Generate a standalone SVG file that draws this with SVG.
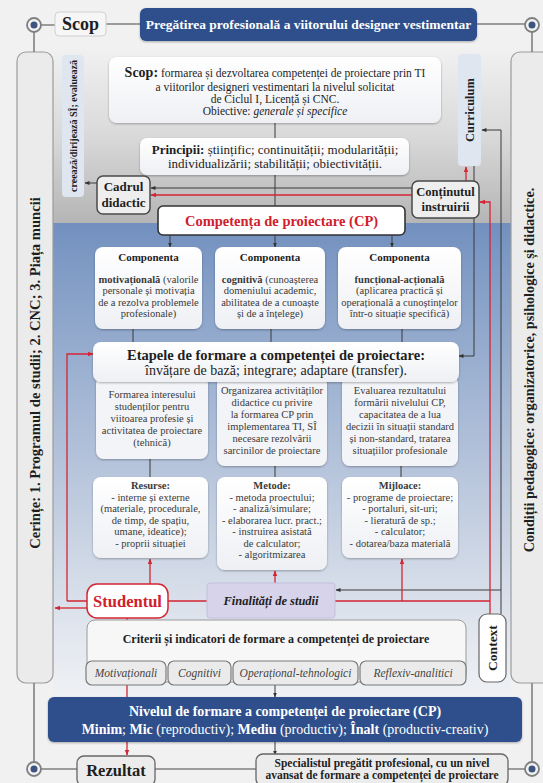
<svg xmlns="http://www.w3.org/2000/svg" width="543" height="783" viewBox="0 0 543 783">
<defs>
<style>
text{font-family:"Liberation Serif","Times New Roman",serif;fill:#1e1e1e}
.b{font-weight:bold}
.it{font-style:italic}
.c{text-anchor:middle}
.body{font-size:10.5px;fill:#3a3a3a}
.frame{stroke:#808080;stroke-width:1.6;fill:none}
.dk{stroke:#3a3a3a;stroke-width:1;fill:none}
.rd{stroke:#d42532;stroke-width:1.3;fill:none}
.wbox{fill:url(#gw);filter:url(#sh)}
.gbox{fill:#eeeeee;stroke:#4a4a4a;stroke-width:1.5}
.side{fill:#ebebeb;stroke:#9c9c9c;stroke-width:1.2}
.navy{fill:#2e4f8c;filter:url(#sh)}
.pale{fill:#dfe6f0}
.pill{fill:#ebebeb;stroke:#7a7a7a;stroke-width:1.2}
.ring{fill:#f2f2f2;stroke:#7f7f7f;stroke-width:1.8}
.dot{fill:#3e5480}
</style>
<linearGradient id="gw" x1="0" y1="0" x2="0" y2="1"><stop offset="0" stop-color="#ffffff"/><stop offset="1" stop-color="#eef0f4"/></linearGradient>
<linearGradient id="ggray" x1="0" y1="0" x2="0" y2="1"><stop offset="0" stop-color="#f2f2f2"/><stop offset="0.5" stop-color="#dadada"/><stop offset="1" stop-color="#b5b5b5"/></linearGradient>
<linearGradient id="gblue" x1="0" y1="0" x2="0" y2="1"><stop offset="0" stop-color="#7290bf"/><stop offset="0.12" stop-color="#859fc7"/><stop offset="0.35" stop-color="#a6b8d5"/><stop offset="0.6" stop-color="#c9d3e3"/><stop offset="0.78" stop-color="#e2e7ef"/><stop offset="0.9" stop-color="#eff1f4"/><stop offset="1" stop-color="#f2f2f2"/></linearGradient>
<filter id="sh" x="-10%" y="-15%" width="120%" height="140%"><feDropShadow dx="0" dy="1" stdDeviation="1.2" flood-color="#000" flood-opacity="0.3"/></filter>
<marker id="ad" viewBox="0 0 10 10" refX="9" refY="5" markerWidth="5" markerHeight="5" orient="auto" markerUnits="userSpaceOnUse"><path d="M0,1 L10,5 L0,9 z" fill="#333"/></marker>
<marker id="ar" viewBox="0 0 10 10" refX="9" refY="5" markerWidth="5.5" markerHeight="5.5" orient="auto" markerUnits="userSpaceOnUse"><path d="M0,1 L10,5 L0,9 z" fill="#d42532"/></marker>
</defs>

<rect width="543" height="783" fill="#f1f1f1"/>
<rect x="53" y="44" width="458" height="179" fill="url(#ggray)"/>
<rect x="53" y="223" width="458" height="527" fill="url(#gblue)"/>

<g id="panel-left"><rect class="side" x="17" y="52" width="36" height="631" rx="9"/>
<text class="b c" font-size="14.6" transform="translate(35,373) rotate(-90)" dy="0.35em">Cerințe: 1. Programul de studii; 2. CNC; 3. Piața muncii</text></g>
<g id="panel-right"><rect class="side" x="511" y="52" width="40" height="631" rx="9"/>
<text class="b c" font-size="14.2" transform="translate(529,370) rotate(-90)" dy="0.35em">Condiții pedagogice: organizatorice, psihologice și didactice.</text></g>

<g id="connectors">
<path class="frame" d="M34,25 H55 M106,24 H140 M477,24 H532 M34,25 V52 M532,25 V52 M34,683 V769 M532,683 V769 M34,769 H77 M155,769 H256 M508,769 H532"/>
<path class="dk" d="M275,123 V138 M275,175 V206"/>
<path class="dk" marker-end="url(#ad)" d="M412,188 H151"/>
<path class="dk" marker-end="url(#ad)" d="M97,183 H85"/>
<path class="dk" marker-end="url(#ad)" d="M170,235 V247"/>
<path class="dk" marker-end="url(#ad)" d="M275,235 V247"/>
<path class="dk" marker-end="url(#ad)" d="M392,235 V247"/>
<path class="dk" d="M133,328 V342 M271,328 V342 M402,328 V342 M150,459 V477 M275,466 V477 M401,466 V477"/>
<path class="dk" marker-end="url(#ad)" d="M474,166 V356 H459"/>
<path class="dk" marker-end="url(#ad)" d="M501,614 V130 H482"/>
<path class="dk" marker-end="url(#ad)" d="M501,590 H336"/>
<path class="dk" marker-end="url(#ad)" d="M275,685 V697"/>
<path class="dk" marker-end="url(#ad)" d="M275,742 V755"/>
<path class="rd" marker-end="url(#ar)" d="M412,195 H151"/>
<path class="rd" marker-end="url(#ar)" d="M466,181 V167"/>
<path class="rd" marker-end="url(#ar)" d="M490,614 V202 H480"/>
<path class="rd" d="M335,601 H490 M168,601 H207 M67,601 H87 M127,618 V621 M127,685 V697"/>
<path class="rd" marker-end="url(#ar)" d="M67,601 V354 H93"/>
<path class="rd" marker-end="url(#ar)" d="M87,608 H55"/>
<path class="rd" marker-end="url(#ar)" d="M150,584 V559"/>
<path class="rd" marker-end="url(#ar)" d="M275,583 V571"/>
<path class="rd" marker-end="url(#ar)" d="M402,601 V559"/>
<path class="rd" marker-end="url(#ar)" d="M127,742 V755"/>
<circle class="ring" cx="34" cy="25" r="7"/><circle class="dot" cx="34" cy="25" r="3.5"/>
<circle class="ring" cx="532" cy="25" r="7"/><circle class="dot" cx="532" cy="25" r="3.5"/>
<circle class="ring" cx="34" cy="769" r="7"/><circle class="dot" cx="34" cy="769" r="3.5"/>
<circle class="ring" cx="532" cy="769" r="7"/><circle class="dot" cx="532" cy="769" r="3.5"/>
</g>

<g id="scop-label"><rect x="55" y="12" width="51" height="24" rx="4" fill="#f6f6f6" stroke="#d0d0d0"/>
<text class="b c" x="80.5" y="30" font-size="18">Scop</text></g>
<g id="title"><rect class="navy" x="140" y="8" width="337" height="33" rx="6"/>
<text class="b c" x="308.5" y="29" font-size="13.5" style="fill:#fff">Pregătirea profesională a viitorului designer vestimentar</text></g>

<g id="creeaza"><rect class="pale" x="62" y="55" width="22" height="142" rx="4"/>
<text class="b c" font-size="10" transform="translate(73,126) rotate(-90)" dy="0.35em">creează/dirijează SÎ; evaluează</text></g>
<g id="curriculum"><rect class="pale" x="458" y="54" width="23" height="112" rx="4"/>
<text class="b c" font-size="12.5" transform="translate(469.5,110) rotate(-90)" dy="0.35em">Curriculum</text></g>

<g id="scop"><rect class="wbox" x="109" y="57" width="332" height="66" rx="8"/>
<text class="c" x="275" y="77" font-size="11.5"><tspan class="b" font-size="14">Scop:</tspan> formarea și dezvoltarea competenței de proiectare prin TI</text>
<text class="c" x="275" y="90.5" font-size="11.5">a viitorilor designeri vestimentari la nivelul solicitat</text>
<text class="c" x="275" y="102.5" font-size="11.5">de Ciclul I, Licență și CNC.</text>
<text class="c" x="275" y="114.5" font-size="11.5">Obiective: <tspan class="it">generale și specifice</tspan></text></g>

<g id="principii"><rect class="wbox" x="140" y="138" width="269" height="37" rx="7"/>
<text class="c" x="275" y="154" font-size="13"><tspan class="b">Principii:</tspan> științific; continuității; modularității;</text>
<text class="c" x="275" y="168" font-size="13">individualizării; stabilității; obiectivității.</text></g>

<g id="cadrul"><rect class="gbox" x="97" y="176" width="53" height="38" rx="6"/>
<text class="b c" x="123.5" y="191" font-size="13">Cadrul</text>
<text class="b c" x="123.5" y="207" font-size="13">didactic</text></g>
<g id="continutul"><rect class="gbox" x="412" y="181" width="67" height="37" rx="6"/>
<text class="b c" x="445.5" y="196" font-size="12.5">Conținutul</text>
<text class="b c" x="445.5" y="211" font-size="12.5">instruirii</text></g>

<g id="competenta"><rect x="158" y="206" width="247" height="29" rx="5" fill="#fff" stroke="#333" stroke-width="1.6"/>
<text class="b c" x="281.5" y="226" font-size="14.5" style="fill:#d0202c">Competența de proiectare (CP)</text></g>

<g id="comp-motivationala"><rect class="wbox" x="95" y="247" width="107" height="82" rx="8"/>
<text class="b c" x="148.5" y="261" font-size="11">Componenta</text>
<text class="c body" x="148.5" y="282.5"><tspan class="b">motivațională</tspan> (valorile</text>
<text class="c body" x="148.5" y="294">personale și motivația</text>
<text class="c body" x="148.5" y="305.5">de a rezolva problemele</text>
<text class="c body" x="148.5" y="317">profesionale)</text></g>
<g id="comp-cognitiva"><rect class="wbox" x="215" y="247" width="110" height="82" rx="8"/>
<text class="b c" x="270" y="261" font-size="11">Componenta</text>
<text class="c body" x="270" y="282.5"><tspan class="b">cognitivă</tspan> (cunoașterea</text>
<text class="c body" x="270" y="294">domeniului academic,</text>
<text class="c body" x="270" y="305.5">abilitatea de a cunoaște</text>
<text class="c body" x="270" y="317">și de a înțelege)</text></g>
<g id="comp-functionala"><rect class="wbox" x="338" y="247" width="123" height="82" rx="8"/>
<text class="b c" x="399.5" y="261" font-size="11">Componenta</text>
<text class="c body b" x="399.5" y="282.5">funcțional-acțională</text>
<text class="c body" x="399.5" y="294">(aplicarea practică și</text>
<text class="c body" x="399.5" y="305.5">operațională a cunoștințelor</text>
<text class="c body" x="399.5" y="317">într-o situație specifică)</text></g>

<g id="etapele"><rect x="96" y="376" width="112" height="83" rx="8" fill="#f3f4f7" filter="url(#sh)"/>
<rect x="217" y="376" width="110" height="90" rx="8" fill="#f3f4f7" filter="url(#sh)"/>
<rect x="342" y="376" width="116" height="90" rx="8" fill="#f3f4f7" filter="url(#sh)"/>
<rect class="wbox" x="93" y="342" width="366" height="40" rx="8"/>
<text class="b c" x="276" y="360" font-size="14.5">Etapele de formare a competenței de proiectare:</text>
<text class="c" x="276" y="375" font-size="14">învățare de bază; integrare; adaptare (transfer).</text>
<text class="c body" x="152" y="398">Formarea interesului</text>
<text class="c body" x="152" y="410">studenților pentru</text>
<text class="c body" x="152" y="422">viitoarea profesie și</text>
<text class="c body" x="152" y="434">activitatea de proiectare</text>
<text class="c body" x="152" y="446">(tehnică)</text>
<text class="c body" x="272" y="394">Organizarea activităților</text>
<text class="c body" x="272" y="406">didactice cu privire</text>
<text class="c body" x="272" y="418">la formarea CP prin</text>
<text class="c body" x="272" y="430">implementarea TI, SÎ</text>
<text class="c body" x="272" y="442">necesare rezolvării</text>
<text class="c body" x="272" y="454">sarcinilor de proiectare</text>
<text class="c body" x="400" y="394">Evaluarea rezultatului</text>
<text class="c body" x="400" y="406">formării nivelului CP,</text>
<text class="c body" x="400" y="418">capacitatea de a lua</text>
<text class="c body" x="400" y="430">decizii în situații standard</text>
<text class="c body" x="400" y="442">și non-standard, tratarea</text>
<text class="c body" x="400" y="454">situațiilor profesionale</text></g>

<g id="resurse"><rect class="wbox" x="93" y="477" width="115" height="81" rx="8"/>
<text class="c body b" x="150.5" y="489">Resurse:</text>
<text class="c body" x="150.5" y="500.5">- interne și externe</text>
<text class="c body" x="150.5" y="512">(materiale, procedurale,</text>
<text class="c body" x="150.5" y="523.5">de timp, de spațiu,</text>
<text class="c body" x="150.5" y="535">umane, ideatice);</text>
<text class="c body" x="150.5" y="546.5">- proprii situației</text></g>
<g id="metode"><rect class="wbox" x="217" y="477" width="110" height="93" rx="8"/>
<text class="c body b" x="272" y="489">Metode:</text>
<text class="c body" x="272" y="500.5">- metoda proectului;</text>
<text class="c body" x="272" y="512">- analiză/simulare;</text>
<text class="c body" x="272" y="523.5">- elaborarea lucr. pract.;</text>
<text class="c body" x="272" y="535">- instruirea asistată</text>
<text class="c body" x="272" y="546.5">de calculator;</text>
<text class="c body" x="272" y="558">- algoritmizarea</text></g>
<g id="mijloace"><rect class="wbox" x="342" y="477" width="116" height="81" rx="8"/>
<text class="c body b" x="400" y="489">Mijloace:</text>
<text class="c body" x="400" y="500.5">- programe de proiectare;</text>
<text class="c body" x="400" y="512">- portaluri, sit-uri;</text>
<text class="c body" x="400" y="523.5">- lieratură de sp.;</text>
<text class="c body" x="400" y="535">- calculator;</text>
<text class="c body" x="400" y="546.5">- dotarea/baza materială</text></g>

<g id="studentul"><rect x="87" y="584" width="81" height="34" rx="10" fill="#fff" stroke="#d42532" stroke-width="1.5"/>
<text class="b c" x="127.5" y="607" font-size="16.5" style="fill:#d0202c">Studentul</text></g>
<g id="finalitati"><rect x="207" y="583" width="128" height="35" rx="3" fill="#d6d3ea" stroke="#c3bfdd"/>
<text class="b it c" x="271" y="605" font-size="12.5">Finalități de studii</text></g>

<g id="criterii"><rect x="87" y="620" width="379" height="62" rx="8" fill="#f7f7f8" stroke="#9a9a9a"/>
<text class="b c" x="276" y="643" font-size="12">Criterii și indicatori de formare a competenței de proiectare</text>
<rect class="pill" x="86" y="661" width="80" height="24" rx="6"/><text class="it c" x="126" y="677" font-size="11.5" style="fill:#444">Motivaționali</text>
<rect class="pill" x="168" y="661" width="63" height="24" rx="6"/><text class="it c" x="199.5" y="677" font-size="11.5" style="fill:#444">Cognitivi</text>
<rect class="pill" x="233" y="661" width="125" height="24" rx="6"/><text class="it c" x="295.5" y="677" font-size="11.5" style="fill:#444">Operațional-tehnologici</text>
<rect class="pill" x="360" y="661" width="106" height="24" rx="6"/><text class="it c" x="413" y="677" font-size="11.5" style="fill:#444">Reflexiv-analitici</text></g>

<g id="context"><rect x="479" y="614" width="27" height="68" rx="8" fill="#fff" stroke="#666" stroke-width="1.2"/>
<text class="b c" font-size="13.5" transform="translate(492.5,648) rotate(-90)" dy="0.35em">Context</text></g>

<g id="nivelul"><rect class="navy" x="48" y="697" width="474" height="45" rx="6"/>
<text class="b c" x="285" y="716" font-size="14" style="fill:#fff">Nivelul de formare a competenței de proiectare (CP)</text>
<text class="c" x="285" y="734" font-size="14" style="fill:#fff"><tspan class="b">Minim</tspan>; <tspan class="b">Mic</tspan> (reproductiv); <tspan class="b">Mediu</tspan> (productiv); <tspan class="b">Înalt</tspan> (productiv-creativ)</text></g>

<g id="rezultat"><rect x="77" y="756" width="78" height="30" rx="7" fill="#ececec" stroke="#666" stroke-width="1.3"/>
<text class="b c" x="116" y="776" font-size="16.5">Rezultat</text></g>
<g id="specialistul"><rect x="256" y="754" width="252" height="32" rx="7" fill="#ececec" stroke="#666" stroke-width="1.3"/>
<text class="b c" x="382" y="767" font-size="11.5">Specialistul pregătit profesional, cu un nivel</text>
<text class="b c" x="382" y="779" font-size="11.5">avansat de formare a competenței de proiectare</text></g>
</svg>
